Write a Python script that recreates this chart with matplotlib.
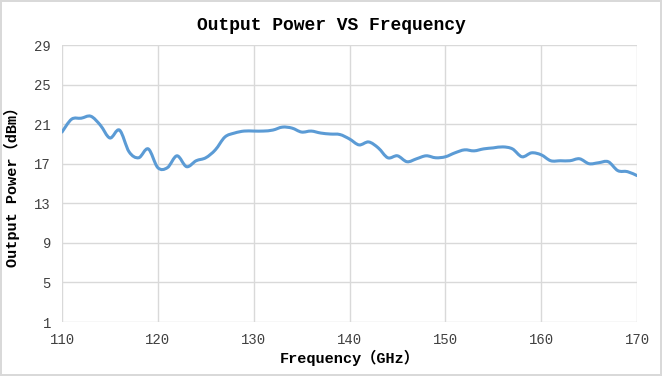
import numpy as np
import matplotlib
matplotlib.use("Agg")
import matplotlib.pyplot as plt
from matplotlib.path import Path
from matplotlib.patches import PathPatch

# datos
freq = np.arange(110, 171)
power = [20.2, 21.5, 21.6, 21.8, 20.9, 19.6, 20.4, 18.2, 17.6, 18.5,
         16.6, 16.6, 17.8, 16.7, 17.3, 17.6, 18.4, 19.7, 20.1, 20.3,
         20.3, 20.3, 20.4, 20.7, 20.6, 20.2, 20.3, 20.1, 20.0, 19.95,
         19.5, 18.9, 19.2, 18.6, 17.6, 17.8, 17.2, 17.5, 17.8, 17.6,
         17.7, 18.1, 18.4, 18.3, 18.5, 18.6, 18.7, 18.5, 17.7, 18.1,
         17.9, 17.3, 17.3, 17.3, 17.5, 17.0, 17.1, 17.2, 16.3, 16.2,
         15.8]
xticks = [110, 120, 130, 140, 150, 160, 170]
yticks = [1, 5, 9, 13, 17, 21, 25, 29]

FONT = ["Liberation Mono", "Noto Sans CJK SC"]


# curva suavizada tipo Excel (bezier con puntos de control Catmull-Rom)
def smooth_path(x, y):
    pts = np.column_stack([x, y]).astype(float)
    verts = [pts[0]]
    codes = [Path.MOVETO]
    n = len(pts)
    for i in range(n - 1):
        p0 = pts[max(i - 1, 0)]
        p1 = pts[i]
        p2 = pts[i + 1]
        p3 = pts[min(i + 2, n - 1)]
        c1 = p1 + (p2 - p0) / 6
        c2 = p2 - (p3 - p1) / 6
        verts += [c1, c2, p2]
        codes += [Path.CURVE4] * 3
    return Path(verts, codes)


fig = plt.figure(figsize=(6.62, 3.76), dpi=100)
fig.patch.set_edgecolor("#d9d9d9")
fig.patch.set_linewidth(1.5)
ax = fig.add_axes([62 / 662, 1 - 322 / 376, 575 / 662, 277 / 376])

ax.add_patch(PathPatch(smooth_path(freq, power), facecolor="none",
                       edgecolor="#5b9bd5", lw=2.2, capstyle="round",
                       joinstyle="round", zorder=3))

ax.set_xlim(110, 170)
ax.set_ylim(1, 29)
ax.set_xticks(xticks)
ax.set_yticks(yticks)
ax.grid(True, color="#d9d9d9", lw=1)
ax.set_axisbelow(True)
for s in ax.spines.values():
    s.set_visible(False)
ax.tick_params(length=0, labelsize=10, labelcolor="#404040", pad=8)
for lab in ax.get_xticklabels() + ax.get_yticklabels():
    lab.set_family(FONT)

fig.suptitle("Output Power VS Frequency", family=FONT, fontsize=13,
             fontweight="bold", x=0.5, y=1 - 25 / 376, va="center")
ax.set_xlabel("Frequency（GHz）", family=FONT, fontsize=11,
              fontweight="bold", labelpad=2)
ax.set_ylabel("Output Power（dBm）", family=FONT, fontsize=11,
              fontweight="bold", labelpad=10)

fig.savefig("out.png", dpi=100)
